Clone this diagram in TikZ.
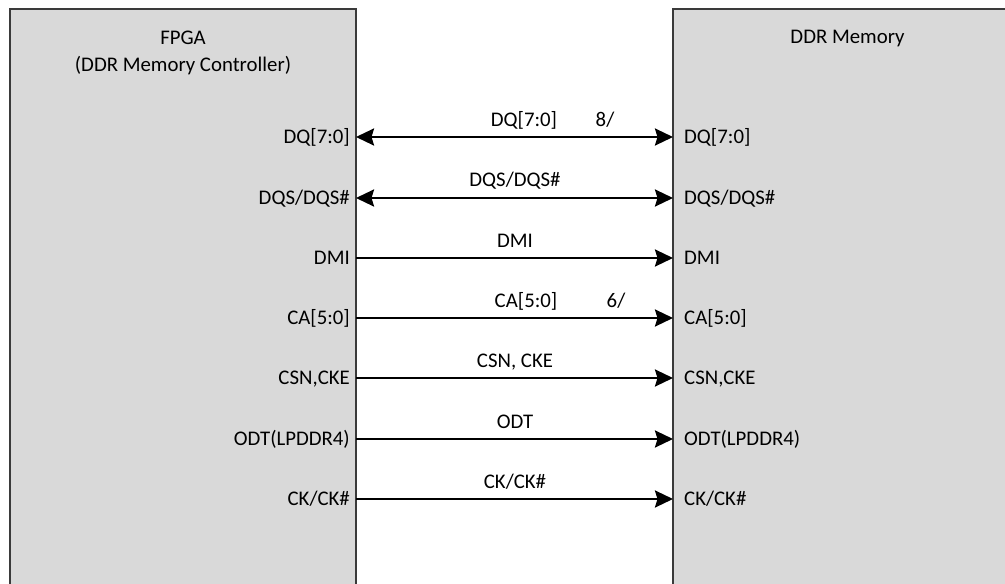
\documentclass[tikz,border=0pt]{standalone}
\usepackage{fontspec}
\setmainfont{Carlito}
\usetikzlibrary{arrows.meta}
\definecolor{boxfill}{HTML}{D9D9D9}
\definecolor{boxline}{HTML}{3A3A3A}
\tikzset{
  tip/.tip={Stealth[length=18pt,width=17pt,inset=2.5pt]},
  sig/.style={line width=2.5pt,-tip},
  bisig/.style={line width=2.5pt,tip-tip},
  lbl/.style={font=\fontsize{20.8}{24}\selectfont,inner sep=0pt,text=black},
  pinl/.style={lbl,anchor=base east},
  pinr/.style={lbl,anchor=base west},
  wire/.style={lbl,anchor=base},
}
\begin{document}
\begin{tikzpicture}[x=1pt,y=-1pt]
\useasboundingbox (0,0) rectangle (1005,584);
% boxes
\fill[boxfill] (10,9) rectangle (356,590);
\draw[boxline,line width=1.2pt] (10,590) -- (10,9) -- (356,9) -- (356,590);
\fill[boxfill] (673,9) rectangle (1010,590);
\draw[boxline,line width=1.2pt] (673,590) -- (673,9) -- (1010,9);
\node[lbl,anchor=base] (fpga) at (183,44) {FPGA};
\node[lbl,anchor=base] (ctrl) at (183,71.5) {(DDR Memory Controller)};
\node[lbl,anchor=base] (ddr) at (847.5,43.5) {DDR Memory};
% pins and connections
\foreach \n/\y/\l/\r in {
  dq/137/{DQ[7:0]}/{DQ[7:0]},
  dqs/198/{DQS/DQS\#}/{DQS/DQS\#},
  dmi/258/{DMI}/{DMI},
  ca/318/{CA[5:0]}/{CA[5:0]},
  csn/378/{CSN,CKE}/{CSN,CKE},
  odt/439/{ODT(LPDDR4)}/{ODT(LPDDR4)},
  ck/499/{CK/CK\#}/{CK/CK\#}}{
  \coordinate (\n L) at (356,\y);
  \coordinate (\n R) at (673,\y);
  \node[pinl] (\n pl) at (350,\y+6) {\l};
  \node[pinr] (\n pr) at (684,\y+6) {\r};
}
\draw[bisig] (dqL) -- (dqR);
\draw[bisig] (dqsL) -- (dqsR);
\draw[sig] (dmiL) -- (dmiR);
\draw[sig] (caL) -- (caR);
\draw[sig] (csnL) -- (csnR);
\draw[sig] (odtL) -- (odtR);
\draw[sig] (ckL) -- (ckR);
% wire labels
\node[wire] (wdq) at (524,126) {DQ[7:0]};
\node[wire] (wdqn) at (605,126) {8/};
\node[wire] (wdqs) at (515,186) {DQS/DQS\#};
\node[wire] (wdmi) at (515,247) {DMI};
\node[wire] (wca) at (526,307) {CA[5:0]};
\node[wire] (wcan) at (616,307) {6/};
\node[wire] (wcsn) at (515,367) {CSN, CKE};
\node[wire] (wodt) at (515,428) {ODT};
\node[wire] (wck) at (515,488) {CK/CK\#};
\end{tikzpicture}
\end{document}
